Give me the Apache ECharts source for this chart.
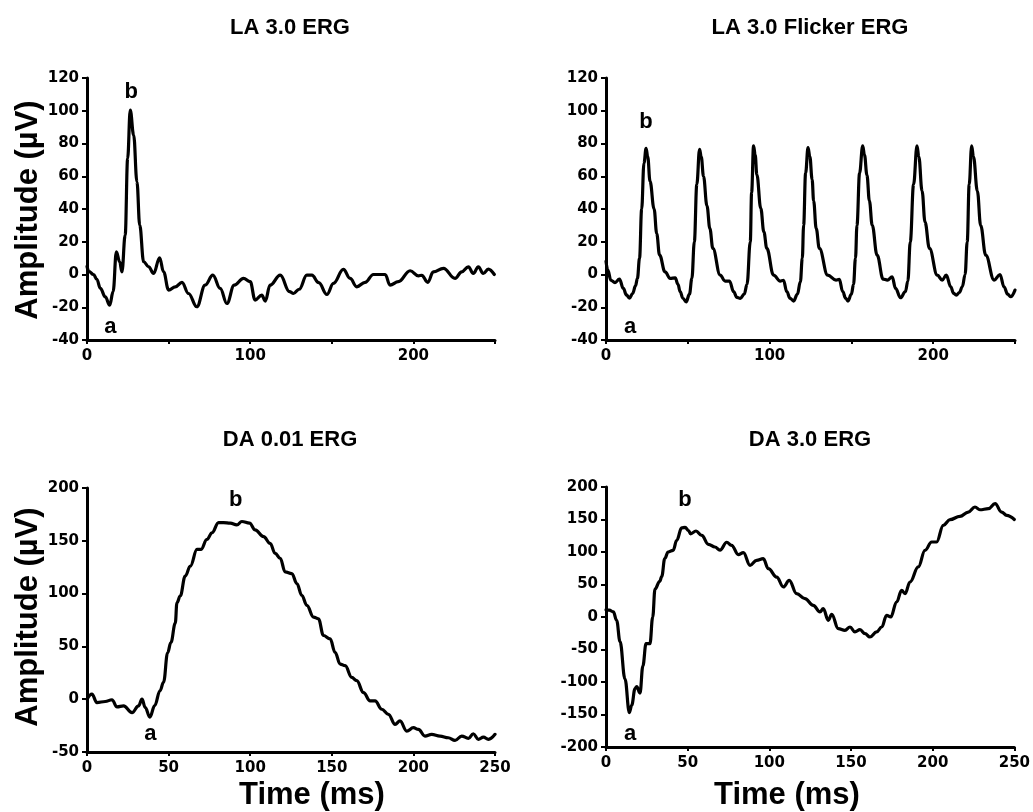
<!DOCTYPE html>
<html>
<head>
<meta charset="utf-8">
<title>ERG</title>
<script src="https://cdn.jsdelivr.net/npm/echarts@6/dist/echarts.min.js"></script>
<style>
	html, body { margin: 0; padding: 0; background: #fff; }
	#main { width: 1033px; height: 812px; }
</style>
</head>
<body>
<div id="main"></div>
<script>
// traces, [time ms, amplitude uV]
var la30Erg = [[0,5],[1,2],[4,0],[6,-3],[8.2,-8.5],[11.2,-13.6],[13.9,-18.7],[16,-10.5],[18,13.9],[20,7.8],[21.4,1.6],[23.4,24],[24.9,70.9],[26.5,100.4],[28.6,85.1],[30.6,56.6],[32.3,30.2],[34.7,7.8],[37.8,4.7],[40.8,0.6],[44.5,10.2],[46.9,1.6],[50,-9.5],[54.1,-7.5],[58.2,-4.8],[62.2,-11.6],[67.3,-19.7],[72.4,-6.5],[77.1,-0.4],[81.6,-8.5],[85.7,-17.7],[90.2,-6.5],[95.9,-2.4],[100,-4.4],[103,-15.6],[107.1,-12.6],[109.2,-16.2],[112.2,-6.5],[118.4,-0.4],[124.1,-10.5],[126.5,-11.6],[130,-9],[134.7,-0.4],[137.8,-0.4],[142,-5],[147,-12.2],[151,-5.4],[157.1,3.1],[161.2,-2.4],[165.3,-7.5],[170.4,-4.8],[175.5,0],[182.7,0],[185.7,-6.5],[190.8,-4.4],[198,2.3],[203.1,-0.8],[205.1,-0.5],[208.8,-4.8],[212.2,1.6],[218.4,3.7],[225.5,-2.4],[229.6,1.6],[233.7,4.7],[236.7,0.6],[239.8,4.7],[242.8,0.6],[245.9,3.3],[249.6,0]];

var la30Flicker = [[0,8],[1,3],[3,-3.5],[5.5,-5],[8.2,-2.8],[10.6,-8.5],[12.5,-12.5],[14.3,-14.5],[16.3,-11.6],[18,-7],[19.2,-2.4],[20.5,10],[21.8,40],[23.2,68],[24.5,77],[25.5,72],[26.9,57],[29.4,40],[31,25],[32.7,12],[36.1,1.6],[39.2,-2.4],[42.3,-2],[44,-6],[45.3,-10.5],[47,-14.5],[49,-16.7],[51,-12],[52.5,-2.4],[54,20],[55.5,55],[57.2,76.5],[58.2,72],[59.6,60],[61.7,42],[63.5,28],[65.3,16],[69.8,-0.4],[72.8,-4],[75.5,-4],[78,-10.5],[80,-14],[82.1,-14.6],[84.5,-12],[86.2,-6],[88.2,20],[89,50],[90.2,78.5],[91.2,73],[92.2,61],[94.6,40.4],[96.5,26],[98.3,15.9],[102.4,-0.4],[106.5,-4],[108.5,-3.5],[110.5,-10.5],[112.5,-14.5],[114.7,-16.2],[117,-12],[118.8,-4.4],[120,10],[120.8,30],[122,62],[123.5,77.5],[124.6,72],[126,58],[126.9,45],[128.5,28],[130.4,15.9],[135.5,-0.4],[140.6,-3.4],[142.6,-3],[144.7,-10.5],[146.5,-14.5],[147.9,-16.2],[150,-12],[151.3,-6],[152.5,10],[153.4,30],[155,62],[156.9,78.5],[158,73],[159.5,60.7],[161,45],[162.7,30.2],[165.7,11.8],[169.4,-2.8],[172,-3.4],[174.9,-1.4],[177,-8.5],[180,-14.2],[183,-10.5],[184.5,-4],[186,20],[188,55],[190.1,78.5],[191.2,72],[193.2,51],[195,32],[197.7,15.9],[202.5,-0.4],[205.5,-3.4],[208,-0.4],[210.7,-7.5],[212.5,-11.5],[214.1,-12.6],[216,-11],[217.8,-7.5],[219.5,0],[220.8,20],[222,55],[223.5,78.5],[224.6,72],[227,51],[229,30],[232.1,11.8],[237.2,-3.4],[240.8,0],[243.3,-7.5],[245.5,-12],[247.3,-13.6],[250,-9.5]];

var da001Erg = [[0,0],[3,4.8],[6.1,-3.2],[11.2,-2.2],[15.3,-0.5],[18.4,-7.3],[22.4,-6.3],[27.6,-12.7],[31.6,-6.3],[33.7,0],[35.7,-7.9],[38.5,-17],[41.5,-6],[44.7,8],[46.9,16],[49.4,44],[51.4,53.6],[54.1,72],[55.1,91.3],[57.1,97.6],[60.2,116.6],[63.3,126],[67.4,141.8],[69.8,141.8],[73.5,151.3],[76.6,157.6],[80.6,167.3],[83.7,167.3],[87.8,166.7],[91.8,165],[94.9,168.3],[99.6,166.7],[103,160.3],[108.2,154],[112.2,147.6],[115.3,138],[118.4,133.3],[121.4,120.6],[125.5,119],[128.6,109.5],[131.6,98.4],[134.7,88.9],[138.8,77.8],[141.8,76.2],[144.9,60.3],[149,57.1],[152,44.4],[155.1,33.3],[158.2,31.7],[162.2,20.6],[165.3,17.5],[169.4,6.3],[173.5,-1.6],[176.5,-1.6],[180.6,-9.5],[184.7,-14.3],[188.8,-23.8],[191.8,-20.6],[195.9,-30.2],[200,-27],[203.1,-28.6],[207.1,-34.9],[211.2,-33.3],[216.3,-34.9],[221.4,-36.5],[225.5,-39],[229.6,-34.9],[233.7,-37.1],[236.7,-32.7],[239.8,-38],[242.9,-35.9],[246,-38],[250,-33.3]];

var da30Erg = [[0,11],[2,10.5],[4.5,8],[6.5,-5],[8.6,-38],[11.6,-95],[14.3,-147],[15.7,-136],[17.8,-110],[18.8,-107],[20.8,-117],[22.6,-75],[24.5,-41],[26.9,-41],[28.6,0],[30,43],[32.9,55],[34.1,62],[36,90],[38,100],[41.1,102.6],[43.3,118],[46.3,137],[48.4,138],[50.5,133],[51.8,128],[55.1,132.3],[58.6,125.6],[62.7,111.8],[66.7,107.7],[69.8,103],[73.9,115],[76.9,110.3],[81,96],[84.1,99],[88.2,79.5],[92.2,87.2],[96.3,89.7],[99.4,74.4],[104.5,61.5],[108.6,46.2],[112.2,56.4],[116.7,35.9],[121.8,28.2],[126.9,18],[131,7.7],[133,12.8],[136.1,-5.1],[138.2,4.1],[142.2,-17.9],[146.3,-20.5],[149.4,-15.4],[152.4,-23],[155.5,-19.5],[158.6,-25.6],[161.6,-30.8],[165.7,-23],[168.8,-15.4],[171.8,2.6],[174.3,0],[177.9,23],[181,41],[183.1,35.9],[186.1,53.8],[191.2,77],[195.3,102.6],[199.4,115.4],[202.4,115.4],[206.5,141],[210.6,149.7],[216.7,154.9],[221.8,161.5],[225.9,169.2],[228.9,165],[234.1,166.7],[238.2,174.4],[242.2,161.5],[245.3,156.4],[250,150]];

// a / b wave markers, [time, amplitude, text]
var la30Marks = [[27.1, 111.6, 'b'], [14.3, -32, 'a']];
var flickerMarks = [[24.5, 93.3, 'b'], [14.7, -32, 'a']];
var da001Marks = [[91.2, 188.9, 'b'], [38.8, -33.3, 'a']];
var da30Marks = [[48.4, 179.5, 'b'], [14.7, -179.5, 'a']];

var titles = ['LA 3.0 ERG', 'LA 3.0 Flicker ERG', 'DA 0.01 ERG', 'DA 3.0 ERG'];
var yRanges = [[-40, 120, 20], [-40, 120, 20], [-50, 200, 50], [-200, 200, 50]];
var xRange = [0, 250, 50];

var fontTick = 'DejaVu Sans';
var fontText = 'Liberation Sans';

var chart = echarts.init(document.getElementById('main'));

var grids = [
	{ left : 87, top : 78, width : 408, height : 262 },
	{ left : 606, top : 78, width : 409, height : 262 },
	{ left : 87, top : 488, width : 408, height : 264 },
	{ left : 606, top : 487, width : 409, height : 260 }
];

var everyHundred = function(v) {
	return v % 100 === 0 ? v : '';
};

var xAxes = [], yAxes = [];
for (var i = 0; i < 4; i++) {
	var isTopRow = i < 2;
	var xLabel = {
		color : '#000',
		fontFamily : fontTick,
		fontWeight : 'bold',
		fontSize : 15,
		margin : 9
	};
	if (isTopRow) {
		xLabel.formatter = everyHundred;
	}
	xAxes.push({
		type : 'value',
		gridIndex : i,
		min : xRange[0],
		max : xRange[1],
		interval : xRange[2],
		axisLine : { onZero : false, lineStyle : { color : '#000', width : 3 } },
		axisTick : { length : 4, lineStyle : { color : '#000', width : 2 } },
		splitLine : { show : false },
		axisLabel : xLabel
	});
	yAxes.push({
		type : 'value',
		gridIndex : i,
		min : yRanges[i][0],
		max : yRanges[i][1],
		interval : yRanges[i][2],
		axisLine : { onZero : false, lineStyle : { color : '#000', width : 3 } },
		axisTick : { length : 5, lineStyle : { color : '#000', width : 2 } },
		splitLine : { show : false },
		axisLabel : {
			color : '#000',
			fontFamily : fontTick,
			fontWeight : 'bold',
			fontSize : 15,
			margin : 8
		}
	});
}

var traces = [la30Erg, la30Flicker, da001Erg, da30Erg];
var marks = [la30Marks, flickerMarks, da001Marks, da30Marks];
var series = [];
for (var j = 0; j < 4; j++) {
	series.push({
		type : 'line',
		xAxisIndex : j,
		yAxisIndex : j,
		data : traces[j],
		showSymbol : false,
		smooth : 0.4,
		smoothMonotone : 'x',
		lineStyle : { color : '#000', width : 3.2, join : 'round', cap : 'round' },
		silent : true,
		animation : false
	});
	series.push({
		type : 'scatter',
		xAxisIndex : j,
		yAxisIndex : j,
		data : marks[j],
		symbolSize : 0,
		itemStyle : { color : '#000', opacity : 1 },
		label : {
			show : true,
			position : 'inside',
			formatter : function(p) { return p.value[2]; },
			color : '#000',
			textBorderWidth : 0,
			opacity : 1,
			fontFamily : fontText,
			fontWeight : 'bold',
			fontSize : 22
		},
		silent : true,
		animation : false
	});
}

var textAt = function(str, x, y, size, rot) {
	return {
		type : 'text',
		x : x,
		y : y,
		rotation : rot || 0,
		silent : true,
		style : {
			text : str,
			font : 'bold ' + size + 'px "' + fontText + '"',
			fill : '#000',
			textAlign : 'center',
			textVerticalAlign : 'middle',
			align : 'center',
			verticalAlign : 'middle'
		}
	};
};

var graphic = [
	textAt(titles[0], 290, 28, 22),
	textAt(titles[1], 810, 28, 22),
	textAt(titles[2], 290, 440, 22),
	textAt(titles[3], 810, 440, 22),
	textAt('Amplitude (µV)', 28, 210, 31, Math.PI / 2),
	textAt('Amplitude (µV)', 28, 617, 31, Math.PI / 2),
	textAt('Time (ms)', 312, 795, 31),
	textAt('Time (ms)', 787, 795, 31)
];

var option = {
	backgroundColor : '#fff',
	animation : false,
	grid : grids,
	xAxis : xAxes,
	yAxis : yAxes,
	series : series,
	graphic : graphic
};
chart.setOption(option);
</script>
</body>
</html>
